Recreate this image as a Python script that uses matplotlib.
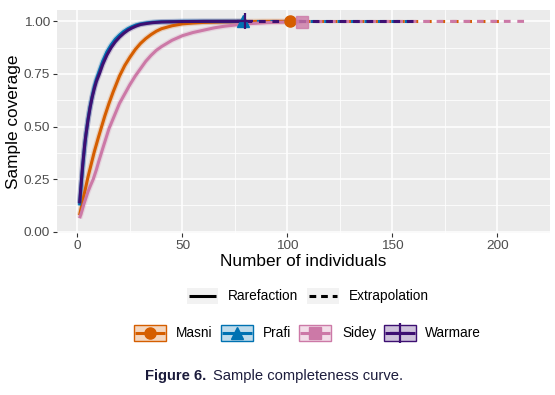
import matplotlib
matplotlib.use("Agg")
import matplotlib.pyplot as plt
from matplotlib import font_manager
from matplotlib.patches import Rectangle
from matplotlib.lines import Line2D

# ---------------- data ----------------
sites = ["Masni", "Prafi", "Sidey", "Warmare"]
colors = ["#D55E00", "#0072B2", "#CC79A7", "#3D0F72"]
markers = ["o", "^", "s", "+"]

masni_x = [1, 2, 3, 4, 5, 6, 7, 8, 9, 10, 11.5, 13, 15, 17, 20, 22.5, 25, 27.5, 30,
           32.5, 35, 37.5, 40, 45, 50, 55, 60, 70, 80, 90, 101]
masni_y = [0.078, 0.125, 0.17, 0.215, 0.26, 0.30, 0.34, 0.38, 0.415, 0.45, 0.50, 0.55,
           0.61, 0.665, 0.74, 0.79, 0.83, 0.866, 0.895, 0.918, 0.937, 0.953, 0.965,
           0.979, 0.988, 0.992, 0.995, 0.998, 0.999, 1.0, 1.0]

prafi_x = [1, 1.5, 2, 2.5, 3, 3.5, 4, 5, 6, 7, 8, 9, 10.4, 12, 14, 16, 18, 20, 22, 24,
           26, 28, 30, 33, 36, 40, 45, 50, 60, 70, 79]
prafi_y = [0.125, 0.19, 0.25, 0.31, 0.365, 0.415, 0.46, 0.535, 0.595, 0.645, 0.69,
           0.725, 0.765, 0.81, 0.855, 0.888, 0.915, 0.935, 0.952, 0.965, 0.975, 0.983,
           0.988, 0.993, 0.996, 0.998, 0.999, 1.0, 1.0, 1.0, 1.0]

sidey_x = [1, 2, 3, 4, 5, 6, 7.5, 9, 10, 12, 15, 17.5, 20, 22.5, 25, 27.5, 30, 32.5,
           35, 37.5, 40, 45, 50, 55, 60, 65, 70, 80, 90, 100, 107]
sidey_y = [0.064, 0.095, 0.13, 0.16, 0.19, 0.215, 0.25, 0.295, 0.33, 0.395, 0.49, 0.55,
           0.61, 0.655, 0.70, 0.74, 0.775, 0.81, 0.838, 0.862, 0.88, 0.91, 0.932,
           0.947, 0.958, 0.969, 0.977, 0.988, 0.994, 0.997, 0.999]

warmare_x = [1, 1.5, 2, 2.5, 3, 3.5, 4, 5, 6, 7, 8, 9, 10.4, 12, 14, 16, 18, 20, 22,
             24, 26, 28, 30, 33, 36, 40, 45, 50, 60, 70, 80]
warmare_y = [0.135, 0.20, 0.26, 0.32, 0.37, 0.42, 0.46, 0.53, 0.59, 0.64, 0.68, 0.715,
             0.75, 0.795, 0.84, 0.875, 0.903, 0.925, 0.943, 0.958, 0.969, 0.978, 0.985,
             0.99, 0.994, 0.997, 0.998, 0.999, 1.0, 1.0, 1.0]

# extrapolation: from observed sample size to double it
extrap_x = [[101, 202], [79, 158], [107, 214], [80, 160]]
extrap_y = [[1.0, 1.0], [1.0, 1.0], [0.999, 1.0], [1.0, 1.0]]

rare_x = [masni_x, prafi_x, sidey_x, warmare_x]
rare_y = [masni_y, prafi_y, sidey_y, warmare_y]

x_ticks = [0, 50, 100, 150, 200]
y_ticks = [0.00, 0.25, 0.50, 0.75, 1.00]
linetype_labels = ["Rarefaction", "Extrapolation"]

# ---------------- fonts ----------------
def has_font(name):
    try:
        font_manager.findfont(font_manager.FontProperties(family=name), fallback_to_default=False)
        return True
    except Exception:
        return False

base_font = "Liberation Sans" if has_font("Liberation Sans") else "DejaVu Sans"
cap_font = "Liberation Sans Narrow" if has_font("Liberation Sans Narrow") else base_font
plt.rcParams["font.family"] = [base_font, "DejaVu Sans"]

W, H = 555, 395
fig = plt.figure(figsize=(W / 100, H / 100), dpi=100)
fig.patch.set_facecolor("white")

L, R, T, B = 56.7, 550, 10, 233
ax = fig.add_axes([L / W, 1 - B / H, (R - L) / W, (B - T) / H])
ax.set_facecolor("#EBEBEB")
ax.set_xlim(-9.9, 224.9)
ax.set_ylim(-0.006, 1.054)
for s in ax.spines.values():
    s.set_visible(False)

ax.set_xticks(x_ticks)
ax.set_yticks(y_ticks)
ax.set_xticks([25, 75, 125, 175, 225], minor=True)
ax.set_yticks([0.125, 0.375, 0.625, 0.875], minor=True)
ax.set_yticklabels([f"{v:.2f}" for v in y_ticks])
ax.grid(which="major", color="white", linewidth=1.1)
ax.grid(which="minor", color="white", linewidth=0.55)
ax.set_axisbelow(True)
ax.tick_params(which="major", length=2.75, width=0.8, color="#333333",
               labelsize=9.7, labelcolor="#4D4D4D", pad=2)
ax.tick_params(which="minor", length=0)

lw = 2.2
# faint halo (confidence band look)
for i in range(4):
    ax.plot(rare_x[i], rare_y[i], color=colors[i], lw=4.0, alpha=0.2,
            solid_capstyle="butt", zorder=2.5)
for i in range(4):
    ax.plot(rare_x[i], rare_y[i], color=colors[i], lw=lw, solid_capstyle="butt",
            solid_joinstyle="round", zorder=3 + i * 0.1)
for i in range(4):
    ax.plot(extrap_x[i], extrap_y[i], color=colors[i], lw=lw, linestyle=(0, (2.2, 2.2)),
            dash_capstyle="butt", zorder=3 + i * 0.1)

msizes = [8, 9, 8, 11]
for i in range(4):
    kw = dict(color=colors[i], markersize=msizes[i], zorder=5, linestyle="none")
    if markers[i] == "+":
        kw["markeredgewidth"] = 1.6
    if markers[i] == "s":
        kw["alpha"] = 0.8
    ax.plot([rare_x[i][-1]], [rare_y[i][-1]], marker=markers[i], **kw)

# axis titles
fig.text(14 / W, 1 - 121.5 / H, "Sample coverage", rotation=90, ha="center", va="center",
         fontsize=12.4, color="black")
fig.text(303 / W, 1 - 262 / H, "Number of individuals", ha="center", va="center",
         fontsize=12.4, color="black")

# ---------------- legends (overlay in pixel coords) ----------------
ov = fig.add_axes([0, 0, 1, 1])
ov.set_xlim(0, W)
ov.set_ylim(H, 0)
ov.axis("off")

# linetype legend
lt_keys = [(187, 218), (307, 339)]
lt_text_x = [228, 349]
row1_y = 296
for k, (x0, x1) in enumerate(lt_keys):
    ov.add_patch(Rectangle((x0, row1_y - 8), x1 - x0, 16, color="#F2F2F2", lw=0))
    ls = "-" if k == 0 else (0, (2.2, 1.6))
    ov.add_line(Line2D([x0 + 2, x1 - 2], [row1_y, row1_y], color="black", lw=lw,
                       linestyle=ls, solid_capstyle="butt", dash_capstyle="butt"))
    ov.text(lt_text_x[k], row1_y, linetype_labels[k], ha="left", va="center",
            fontsize=9.85, color="black")

# site legend
site_keys = [134, 221, 299, 384]
site_text_x = [176, 263, 342, 425]
row2_y = 333
kw_w, kw_h = 32, 16
for i in range(4):
    x0 = site_keys[i]
    ov.add_patch(Rectangle((x0, row2_y - kw_h / 2), kw_w, kw_h, facecolor=colors[i],
                           alpha=0.25, lw=0))
    ov.add_patch(Rectangle((x0, row2_y - kw_h / 2), kw_w, kw_h, facecolor="none",
                           edgecolor=colors[i], lw=1.0))
    ov.add_line(Line2D([x0 + 1, x0 + kw_w - 1], [row2_y, row2_y], color=colors[i], lw=lw,
                       solid_capstyle="butt"))
    mk = dict(color=colors[i], markersize=msizes[i] if markers[i] != "+" else 14)
    if markers[i] == "+":
        mk["markeredgewidth"] = 1.6
    ov.add_line(Line2D([x0 + kw_w / 2], [row2_y], marker=markers[i], linestyle="none", **mk))
    ov.text(site_text_x[i], row2_y, sites[i], ha="left", va="center", fontsize=9.85,
            color="black")

# caption
cap_color = "#1C1C3C"
cap_size = 10.6
t1 = ov.text(145, 376, "Figure 6.", ha="left", va="center", fontsize=cap_size,
             fontweight="bold", color=cap_color, family=[cap_font, "DejaVu Sans"])
fig.canvas.draw()
bb = t1.get_window_extent()
x_after = bb.x1 + 7
ov.text(x_after, 376, "Sample completeness curve.", ha="left", va="center",
        fontsize=cap_size, color=cap_color, family=[cap_font, "DejaVu Sans"])

fig.savefig("out.png", dpi=100)
